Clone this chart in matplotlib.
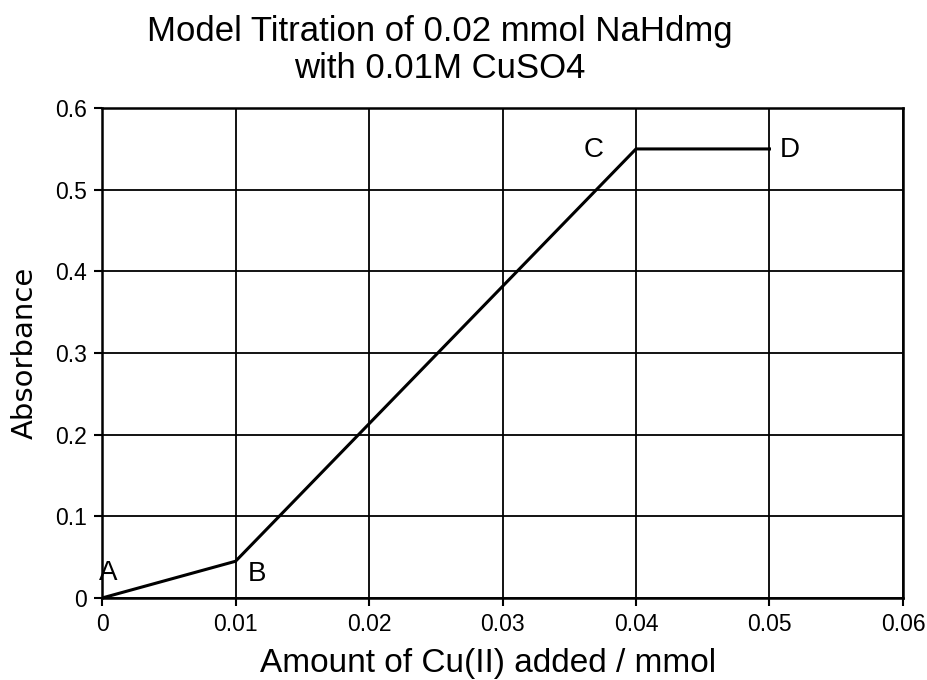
import matplotlib
matplotlib.use('Agg')
import matplotlib.pyplot as plt

# data
amount = [0.0, 0.01, 0.04, 0.05]
absorbance = [0.0, 0.045, 0.55, 0.55]
point_labels = ['A', 'B', 'C', 'D']
xticks = [0, 0.01, 0.02, 0.03, 0.04, 0.05, 0.06]
xtick_labels = ['0', '0.01', '0.02', '0.03', '0.04', '0.05', '0.06']
yticks = [0, 0.1, 0.2, 0.3, 0.4, 0.5, 0.6]
ytick_labels = ['0', '0.1', '0.2', '0.3', '0.4', '0.5', '0.6']

plt.rcParams['font.family'] = ['Liberation Sans', 'DejaVu Sans']

fig = plt.figure(figsize=(9.28, 6.8), dpi=100)
ax = fig.add_axes([0.110, 0.1206, 0.863, 0.7204])

ax.plot(amount, absorbance, color='black', lw=2.2, solid_joinstyle='miter')

ax.set_xlim(0, 0.06)
ax.set_ylim(0, 0.6)
ax.set_xticks(xticks)
ax.set_xticklabels(xtick_labels)
ax.set_yticks(yticks)
ax.set_yticklabels(ytick_labels)
ax.grid(True, color='black', lw=1.3)
ax.tick_params(labelsize=16.5, length=6, width=1.5, direction='out', colors='black', pad=5)
for s in ax.spines.values():
    s.set_linewidth(1.8)

# point labels, offset from their points
offsets = {'A': (0.00045, 0.0306), 'B': (0.0016, -0.0156),
           'C': (-0.0032, -0.0014), 'D': (0.0015, -0.0014)}
for x, y, lab in zip(amount, absorbance, point_labels):
    dx, dy = offsets[lab]
    ax.text(x + dx, y + dy, lab, fontsize=20, va='center', ha='center')

ax.set_xlabel('Amount of Cu(II) added / mmol', fontsize=24)
ax.xaxis.set_label_coords(0.482, -0.102)
ax.set_ylabel('Absorbance', fontsize=21, family='DejaVu Sans')
ax.yaxis.set_label_coords(-0.079, 0.5)
fig.text(0.474, 0.927, 'Model Titration of 0.02 mmol NaHdmg\nwith 0.01M CuSO4',
         fontsize=25, ha='center', va='center', linespacing=1.15)

fig.savefig('out.png', dpi=100)
